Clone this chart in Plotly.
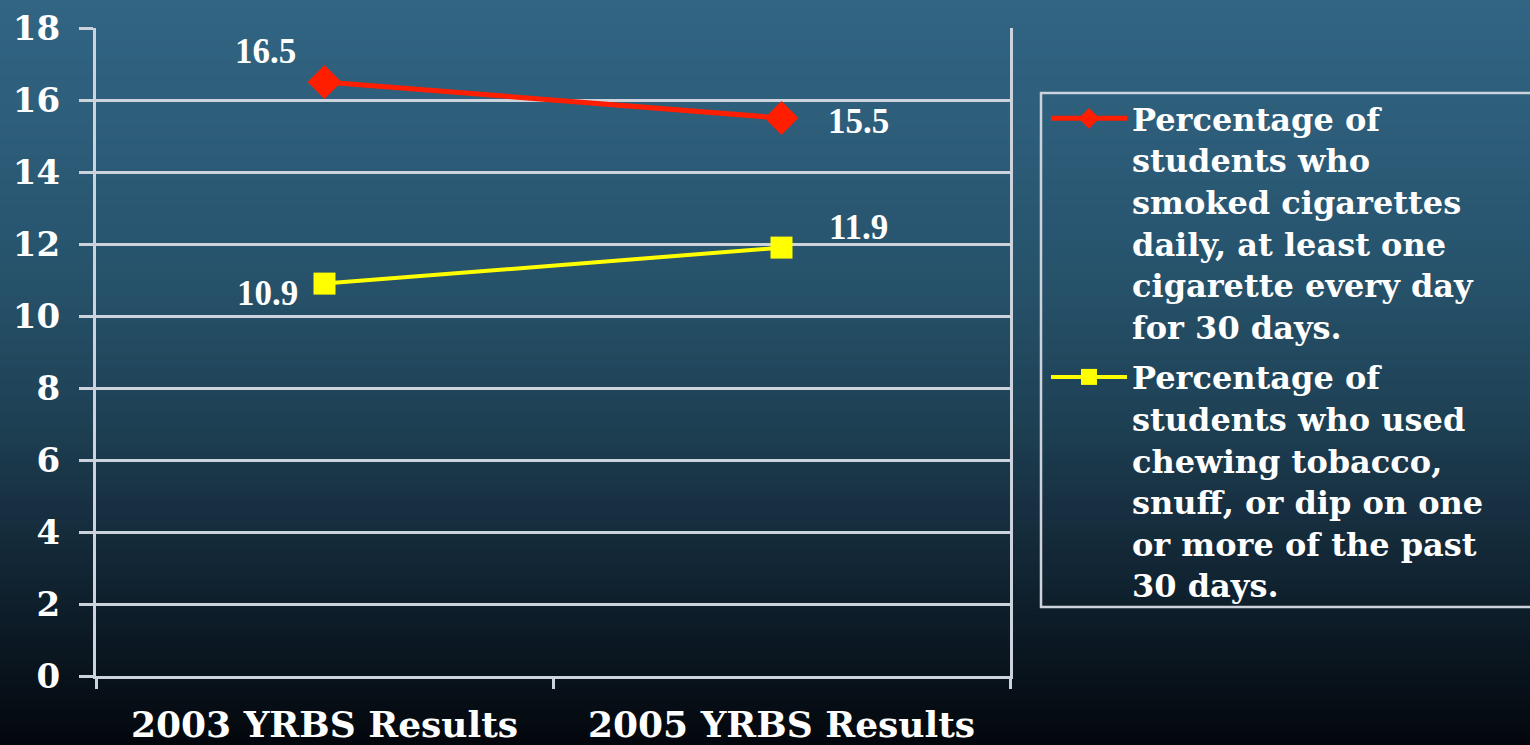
import plotly.graph_objects as go

# ---- data -------------------------------------------------------------
categories = ["2003 YRBS Results", "2005 YRBS Results"]
smoked_daily = [16.5, 15.5]
smokeless_tobacco = [10.9, 11.9]
y_tick_values = [0, 2, 4, 6, 8, 10, 12, 14, 16, 18]

series_names = [
    "Percentage of<br>students who<br>smoked cigarettes<br>daily, at least one<br>cigarette every day<br>for 30 days.",
    "Percentage of<br>students who used<br>chewing tobacco,<br>snuff, or dip on one<br>or more of the past<br>30 days.",
]

# ---- geometry ---------------------------------------------------------
W, H = 1530, 745
ML, MR, MT, MB = 96, 520, 28, 69
PW, PH = W - ML - MR, H - MT - MB


def px_x(p):
    return (p - ML) / PW


def px_y(p):
    return 1 - (p - MT) / PH


GRID = "#CDD3DD"
WHITE = "#FFFFFF"
FONT = "DejaVu Serif"

fig = go.Figure()

fig.add_trace(go.Scatter(
    x=categories, y=smoked_daily, name=series_names[0], mode="lines+markers",
    line=dict(color="#FF1E00", width=5),
    marker=dict(symbol="diamond", size=26, color="#FF1E00"),
    cliponaxis=False, legendgroup="daily",
))
fig.add_trace(go.Scatter(
    x=categories, y=smokeless_tobacco, name=series_names[1], mode="lines+markers",
    line=dict(color="#FFFF00", width=4),
    marker=dict(symbol="square", size=22, color="#FFFF00"),
    cliponaxis=False, legendgroup="smokeless",
))

# ---- background gradient (figure-wide bands) -------------------------
stops = [
    (0, (49, 101, 131)),
    (150, (44, 92, 120)),
    (300, (37, 80, 104)),
    (420, (30, 64, 84)),
    (520, (22, 46, 62)),
    (620, (13, 28, 40)),
    (745, (3, 7, 12)),
]


def grad_color(yp):
    for (y0, c0), (y1, c1) in zip(stops[:-1], stops[1:]):
        if y0 <= yp <= y1:
            t = (yp - y0) / (y1 - y0)
            return "rgb(%d,%d,%d)" % tuple(round(a + (b - a) * t) for a, b in zip(c0, c1))
    return "rgb(%d,%d,%d)" % stops[-1][1]


shapes = []
band = 5
for yp in range(0, H, band):
    shapes.append(dict(
        type="rect", xref="paper", yref="paper", layer="below",
        x0=px_x(-2), x1=px_x(W + 2), y0=px_y(yp + band + 0.6), y1=px_y(yp),
        fillcolor=grad_color(yp + band / 2), line=dict(width=0),
    ))

# legend frame
shapes.append(dict(
    type="rect", xref="paper", yref="paper", layer="above",
    x0=px_x(1041), x1=px_x(W + 10), y0=px_y(607), y1=px_y(93),
    line=dict(color=GRID, width=2.5), fillcolor="rgba(0,0,0,0)",
))

# ---- value labels ----------------------------------------------------
label_font = dict(family="Liberation Serif", size=35, color=WHITE, weight="bold")
label_specs = [
    (categories[0], smoked_daily[0], "right", -27, 31),
    (categories[1], smoked_daily[1], "left", 44, -3),
    (categories[0], smokeless_tobacco[0], "right", -25, -10),
    (categories[1], smokeless_tobacco[1], "left", 45, 20),
]
annotations = []
for x, y, anchor, dx, dy in label_specs:
    annotations.append(dict(
        x=x, y=y, xref="x", yref="y", text=f"{y:.1f}", showarrow=False,
        xanchor=anchor, yanchor="middle", xshift=dx, yshift=dy, font=label_font,
    ))

fig.update_layout(
    template="none",
    width=W, height=H,
    margin=dict(l=ML, r=MR, t=MT, b=MB, pad=0, autoexpand=False),
    paper_bgcolor="rgb(3,7,12)",
    plot_bgcolor="rgba(0,0,0,0)",
    shapes=shapes,
    annotations=annotations,
    showlegend=True,
    legend=dict(
        x=px_x(1046), y=px_y(91), xanchor="left", yanchor="top",
        bgcolor="rgba(0,0,0,0)", borderwidth=0, maxheight=700,
        font=dict(family=FONT, size=32, color=WHITE, weight="bold"),
        itemwidth=76, valign="top", tracegroupgap=6,
    ),
    xaxis=dict(
        type="category", range=[-0.5, 1.5], tickson="boundaries",
        ticks="outside", ticklen=10, tickwidth=3, tickcolor=GRID,
        showline=True, linecolor=GRID, linewidth=3, showgrid=False,
        zeroline=False, automargin=False,
        tickfont=dict(family=FONT, size=36, color=WHITE, weight="bold"),
        ticklabelstandoff=15,
    ),
    yaxis=dict(
        range=[0, 18], tickvals=y_tick_values,
        ticks="outside", ticklen=14, tickwidth=3, tickcolor=GRID,
        showline=True, linecolor=GRID, linewidth=3, mirror=True,
        showgrid=True, gridcolor=GRID, gridwidth=3, zeroline=False,
        automargin=False,
        tickfont=dict(family=FONT, size=34, color=WHITE, weight="bold"),
        ticklabelstandoff=12,
    ),
)

fig.write_html("out.html")
